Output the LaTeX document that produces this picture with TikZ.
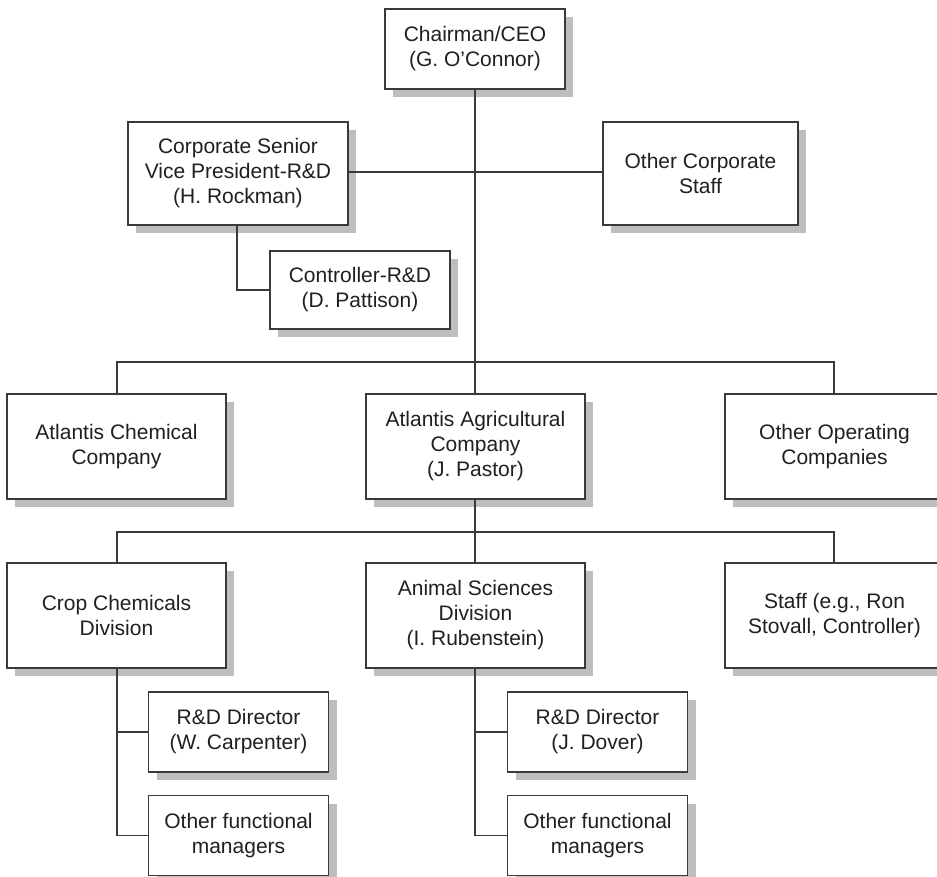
\documentclass[tikz,border=0pt]{standalone}
\usepackage{fontspec}
\setmainfont{Liberation Sans}
\usetikzlibrary{shadows}
\definecolor{ink}{HTML}{231F20}
\definecolor{edge}{HTML}{3A3A3A}
\definecolor{shade}{HTML}{BCBEC0}
\begin{document}
\begin{tikzpicture}[x=1pt,y=-1pt,
  box/.style={draw=edge, line width=1.4pt, fill=white, align=center, text=ink,
    inner sep=0pt, font=\fontsize{21}{25}\selectfont,
    drop shadow={shadow xshift=8pt, shadow yshift=-8pt, fill=shade, opacity=1}},
  wide/.style={box, minimum width=219pt, minimum height=105pt},
  small/.style={box, minimum width=180pt, minimum height=80pt},
  link/.style={draw=edge, line width=1.3pt}]
\useasboundingbox (0,0) rectangle (937,876);

% corporate level
\node[small] (ceo) at (475,49) {Chairman/CEO\\(G. O’Connor)};
\node[box, minimum width=220pt, minimum height=103pt] (vp) at (238,173.5)
  {Corporate Senior\\Vice President-R\&D\\(H. Rockman)};
\node[box, minimum width=195pt, minimum height=103pt] (ocs) at (700.5,173.5)
  {Other Corporate\\Staff};
\node[box, minimum width=180pt, minimum height=78pt] (ctrl) at (360,290)
  {Controller-R\&D\\(D. Pattison)};

% operating companies
\node[wide] (chem) at (116.5,446.5) {Atlantis Chemical\\Company};
\node[wide] (agri) at (475.5,446.5) {Atlantis Agricultural\\Company\\(J. Pastor)};
\node[wide] (oop)  at (834.5,446.5) {Other Operating\\Companies};

% divisions
\node[wide] (crop)  at (116.5,615.5) {Crop Chemicals\\Division};
\node[wide] (anim)  at (475.5,615.5) {Animal Sciences\\Division\\(I. Rubenstein)};
\node[wide] (staff) at (834.5,615.5) {Staff (e.g., Ron\\Stovall, Controller)};

% functional managers
\node[small] (rd1) at (238.5,732) {R\&D Director\\(W. Carpenter)};
\node[small] (of1) at (238.5,835.5) {Other functional\\managers};
\node[small] (rd2) at (597.5,732) {R\&D Director\\(J. Dover)};
\node[small] (of2) at (597.5,835.5) {Other functional\\managers};

% junction points
\coordinate (tbar) at (475,362);
\coordinate (dbar) at (475,532);

% connectors
\draw[link] (ceo.south -| 475,0) -- (agri.north -| 475,0);
\draw[link] (vp.east |- 0,172) -- (ocs.west |- 0,172);
\draw[link] (vp.south -| 237,0) |- (ctrl.west);
\draw[link] (chem.north -| 117,0) |- (tbar) -| (oop.north -| 834,0);
\draw[link] (agri.south -| 475,0) -- (anim.north -| 475,0);
\draw[link] (crop.north -| 117,0) |- (dbar) -| (staff.north -| 834,0);
\draw[link] (crop.south -| 117,0) |- (of1.west);
\draw[link] (rd1.west) -- (rd1.west -| 117,0);
\draw[link] (anim.south -| 475,0) |- (of2.west);
\draw[link] (rd2.west) -- (rd2.west -| 475,0);
\end{tikzpicture}
\end{document}
